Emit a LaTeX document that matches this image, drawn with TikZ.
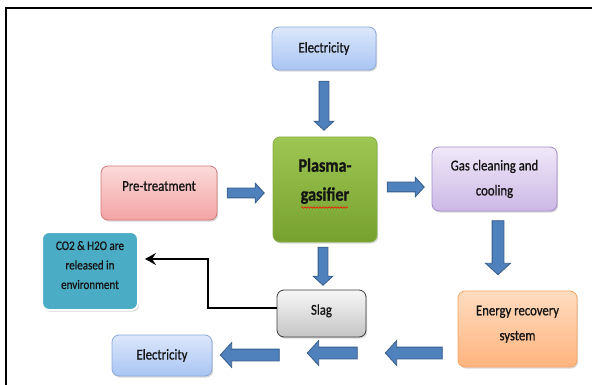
\documentclass[tikz,border=0pt]{standalone}
\usepackage{fontspec}
\setmainfont{Carlito}[FakeStretch=0.85, FakeBold=0.9]
\usetikzlibrary{arrows.meta, positioning, shapes.arrows, shadows, decorations.pathmorphing}
\definecolor{elecTop}{HTML}{DCE7FB}
\definecolor{elecBot}{HTML}{A9C5F3}
\definecolor{elecEdge}{HTML}{8AA8D8}
\definecolor{plasmaTop}{HTML}{9DC652}
\definecolor{plasmaBot}{HTML}{77A12F}
\definecolor{plasmaEdge}{HTML}{86AE45}
\definecolor{preTop}{HTML}{FBDADA}
\definecolor{preBot}{HTML}{F3A4A4}
\definecolor{preEdge}{HTML}{D27A7A}
\definecolor{gasTop}{HTML}{EFE8F8}
\definecolor{gasBot}{HTML}{CCB8E6}
\definecolor{gasEdge}{HTML}{A38DC8}
\definecolor{energyTop}{HTML}{FFDCC0}
\definecolor{energyBot}{HTML}{FFB47E}
\definecolor{energyEdge}{HTML}{F6A565}
\definecolor{slagTop}{HTML}{F6F6F6}
\definecolor{slagBot}{HTML}{C6C6C6}
\definecolor{slagEdge}{HTML}{3C3C3C}
\definecolor{co2Fill}{HTML}{4BACC6}
\definecolor{arrowBlue}{HTML}{4F81BD}
\definecolor{arrowEdge}{HTML}{385D8A}
\definecolor{textDark}{HTML}{141414}

\begin{document}
\begin{tikzpicture}[x=1pt, y=-1pt, >=Stealth, font=\fontsize{15}{25}\selectfont, text=textDark,
  procbox/.style={rounded corners=7pt, draw, line width=0.8pt, align=center, inner sep=2pt,
    drop shadow={shadow xshift=1.2pt, shadow yshift=-1.6pt, opacity=0.3}},
  blockarrow/.style={single arrow, draw=arrowEdge, fill=arrowBlue, line width=0.8pt,
    inner sep=4.5pt, single arrow head extend=5pt, single arrow tip angle=95},
  widearrow/.style={blockarrow, inner sep=5.5pt, single arrow head extend=6.5pt}]
  \useasboundingbox (0,0) rectangle (592,385);
  \draw[line width=2pt] (5.5,385) -- (5.5,8.5) -- (592,8.5);

  % Boxes
  \node[procbox, top color=elecTop, bottom color=elecBot, draw=elecEdge,
    minimum width=104pt, minimum height=43pt] (elecIn) at (324,48.5) {Electricity};
  \node[procbox, top color=plasmaTop, bottom color=plasmaBot, draw=plasmaEdge,
    minimum width=104pt, minimum height=105pt, font=\bfseries\fontsize{19}{29}\selectfont,
    text depth=20pt] (gasifier) at (325,189.5) {Plasma-\\gasifier};
  \node[procbox, top color=preTop, bottom color=preBot, draw=preEdge,
    minimum width=116pt, minimum height=54pt, text depth=14pt] (pretreat) at (159,193) {Pre-treatment};
  \node[procbox, top color=gasTop, bottom color=gasBot, draw=gasEdge,
    minimum width=125pt, minimum height=64pt] (gasclean) at (494.5,179) {Gas cleaning and\\cooling};
  \node[procbox, top color=energyTop, bottom color=energyBot, draw=energyEdge,
    minimum width=119pt, minimum height=76pt, text depth=12pt] (energy) at (517.5,329) {Energy recovery\\system};
  \node[procbox, top color=slagTop, bottom color=slagBot, draw=slagEdge,
    minimum width=89pt, minimum height=47pt, text depth=8pt] (slag) at (321.5,313.5) {Slag};
  \node[procbox, fill=co2Fill, draw=white, line width=2pt,
    drop shadow={shadow xshift=0.8pt, shadow yshift=-1.2pt, opacity=0.45},
    minimum width=96pt, minimum height=78pt, font=\fontsize{13}{19.5}\selectfont,
    text depth=12pt] (release) at (90,271) {CO2 \& H2O are\\released in\\environment};
  \node[procbox, top color=elecTop, bottom color=elecBot, draw=elecEdge,
    minimum width=100pt, minimum height=41pt] (elecOut) at (162,355.5) {Electricity};

  % Spelling mark under gasifier
  \draw[red, line width=0.5pt, decorate, decoration={snake, segment length=3pt, amplitude=0.8pt}]
    (301,207.5) -- (348,207.5);

  % Block arrows
  \node[blockarrow, minimum height=49pt, shape border rotate=270] (arrElec) at (324,103.5) {};
  \node[blockarrow, minimum height=37pt] (arrPre) at (243.5,193) {};
  \node[blockarrow, minimum height=37pt] (arrGas) at (403.5,187) {};
  \node[widearrow, minimum height=54pt, shape border rotate=270] (arrClean) at (498,245) {};
  \node[blockarrow, minimum height=38pt, shape border rotate=270] (arrSlag) at (323,264) {};
  \node[widearrow, minimum height=57pt, shape border rotate=180] (arrEnergy) at (416.5,353) {};
  \node[widearrow, minimum height=50pt, shape border rotate=180] (arrMid) at (335,353) {};
  \node[widearrow, minimum height=59pt, shape border rotate=180] (arrOut) at (252.5,355) {};

  % Slag gases to environment
  \draw[-{Stealth[length=11pt, width=12pt, inset=4pt]}, line width=2pt, shorten >=6pt]
    ([yshift=5.5pt]slag.west) -- ++(-69,0) |- ([yshift=12pt]release.east);
\end{tikzpicture}
\end{document}
